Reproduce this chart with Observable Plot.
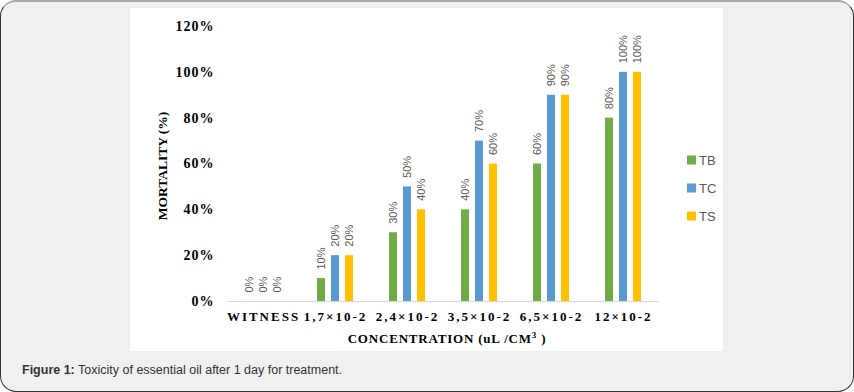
<!DOCTYPE html>
<html>
<head>
<meta charset="utf-8">
<script src="https://cdn.jsdelivr.net/npm/d3@7"></script>
<script src="https://cdn.jsdelivr.net/npm/@observablehq/plot@0.6"></script>
<style>
  html, body { margin: 0; padding: 0; background: #fff; }
  #page { position: relative; width: 854px; height: 392px; overflow: hidden; }
  #box { position: absolute; left: 0; top: 0; width: 854px; height: 392px; box-sizing: border-box;
         border: 1px solid #333; border-top: 2px solid #a8a8a8; border-radius: 16px; background: #f0f0f0; }
  #panel { position: absolute; left: 130px; top: 8px; width: 593px; height: 343px; background: #fff; }
  #panel svg { position: absolute; left: 0; top: 0; }
  #panel g[aria-label="y-axis tick label"] text { letter-spacing: 1px; }
  #panel g[aria-label="fx-axis tick label"] text { letter-spacing: 2px; }
  .ytitle { position: absolute; left: 163px; top: 166px; transform: translate(-50%, -50%) rotate(-90deg);
            font: bold 13.5px "Liberation Serif", serif; white-space: nowrap; color: #000; }
  .xtitle { position: absolute; left: 447px; top: 339px; transform: translate(-50%, -50%);
            font: bold 13px "Liberation Serif", serif; letter-spacing: 0.8px; white-space: nowrap; color: #000; }
  .legend { position: absolute; left: 687px; font: 13px "Liberation Sans", sans-serif; color: #595959; }
  .legend .item { position: absolute; left: 0; white-space: nowrap; display: flex; align-items: center; transform: translateY(-50%); }
  .legend .sw { width: 9px; height: 9px; margin-right: 3px; display: inline-block; }
  .caption { position: absolute; left: 22px; top: 370px; transform: translateY(-50%);
             font: 12.5px "Liberation Sans", Arial, sans-serif; color: #333; white-space: nowrap; }
</style>
</head>
<body>
<div id="page">
  <div id="box"></div>
  <div id="panel"></div>
  <div class="ytitle">MORTALITY (%)</div>
  <div class="xtitle">CONCENTRATION (uL /CM<sup style="font-size:9px;vertical-align:5px;line-height:0">3</sup> )</div>
  <div class="legend" id="legend"></div>
  <div class="caption"><b>Figure 1:</b> Toxicity of essential oil after 1 day for treatment.</div>
</div>
<script>
const categories = ["WITNESS", "1,7×10-2", "2,4×10-2", "3,5×10-2", "6,5×10-2", "12×10-2"];
const series = ["TB", "TC", "TS"];
const TB = [0, 10, 30, 40, 60, 80];
const TC = [0, 20, 50, 70, 90, 100];
const TS = [0, 20, 40, 60, 90, 100];
const yTicks = [0, 20, 40, 60, 80, 100, 120];
const colors = ["#70ad47", "#5b9bd5", "#ffc000"];

const valuesBySeries = {TB, TC, TS};
const data = [];
categories.forEach((c, i) => {
  series.forEach(s => data.push({conc: c, series: s, value: valuesBySeries[s][i]}));
});

const chart = Plot.plot({
  width: 593,
  height: 343,
  marginLeft: 94,
  marginRight: 62,
  marginTop: 18,
  marginBottom: 50,
  style: {fontFamily: "Liberation Serif", fontSize: "13px", fontWeight: "bold", background: "transparent", color: "#000"},
  fx: {domain: categories, padding: 0, label: null, tickSize: 0, tickPadding: 10},
  x: {domain: series, axis: null, paddingInner: 0.456, paddingOuter: 1.2},
  y: {domain: [0, 120], axis: null},
  color: {domain: series, range: colors},
  marks: [
    Plot.axisY({ticks: yTicks, tickFormat: d => d + "%", tickSize: 0, tickPadding: 13, line: true,
                stroke: "#d9d9d9", fill: "#000", label: null, fontSize: 14}),
    Plot.barY(data, {fx: "conc", x: "series", y: "value", fill: "series"}),
    Plot.ruleY([0], {stroke: "#d9d9d9"}),
    Plot.text(data, {fx: "conc", x: "series", y: "value", text: d => d.value + "%", rotate: -90,
                     textAnchor: "start", dy: -9, fontFamily: "Liberation Sans", fontSize: 11,
                     fontWeight: "normal", fill: "#595959"})
  ]
});
document.getElementById("panel").appendChild(chart);

const legendY = [160, 188, 216];
const legend = document.getElementById("legend");
series.forEach((s, i) => {
  const item = document.createElement("div");
  item.className = "item";
  item.style.top = legendY[i] + "px";
  item.innerHTML = `<span class="sw" style="background:${colors[i]}"></span>${s}`;
  legend.appendChild(item);
});
</script>
</body>
</html>
